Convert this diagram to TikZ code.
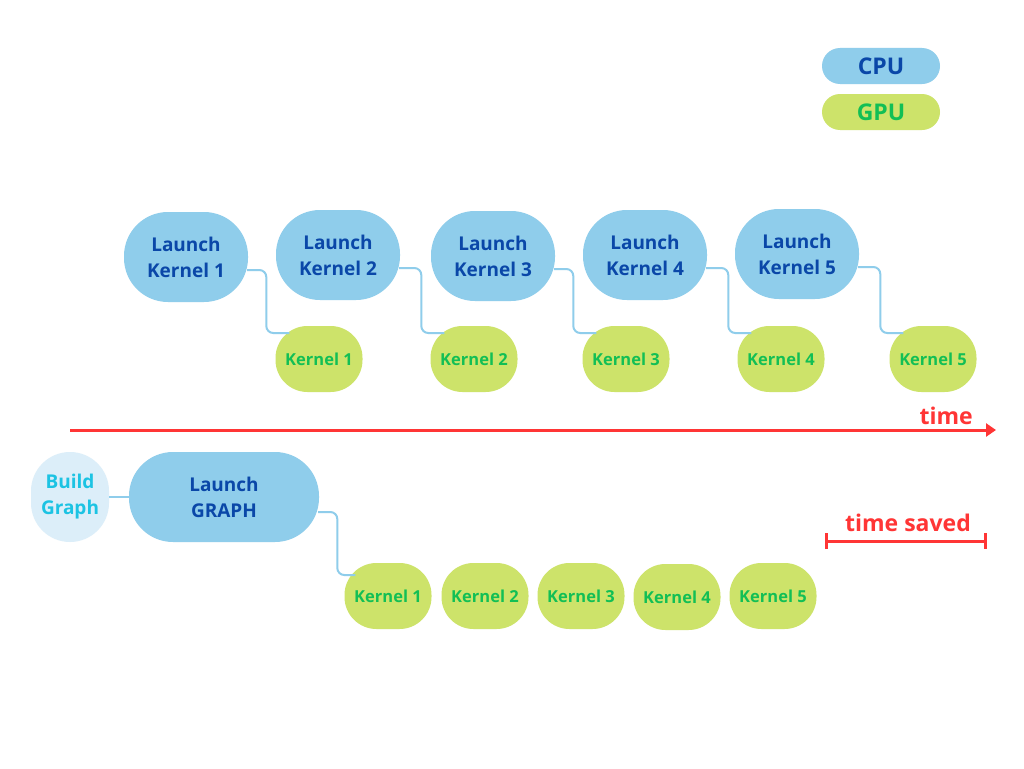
\documentclass[tikz,border=0pt]{standalone}
\usepackage{fontspec}
\setmainfont{Open Sans}
\usetikzlibrary{calc,arrows.meta}
\definecolor{cpufill}{HTML}{8FCDEB}
\definecolor{cputext}{HTML}{0A47A8}
\definecolor{gpufill}{HTML}{CDE36A}
\definecolor{gputext}{HTML}{12BF55}
\definecolor{buildfill}{HTML}{DCEEF9}
\definecolor{buildtext}{HTML}{1CC3E3}
\definecolor{tred}{HTML}{FF3535}
\begin{document}
\begin{tikzpicture}[x=1pt,y=-1pt,
  cpunode/.style={fill=cpufill, text=cputext, rounded corners=44pt, minimum width=124pt, minimum height=90pt, align=center, inner sep=0pt, font=\bfseries\fontsize{19}{26}\selectfont},
  gpunode/.style={fill=gpufill, text=gputext, rounded corners=32pt, minimum width=87pt, minimum height=66pt, inner sep=0pt, font=\bfseries\fontsize{16.5}{18}\selectfont},
  buildnode/.style={fill=buildfill, text=buildtext, rounded corners=39pt, minimum width=78pt, minimum height=90pt, align=center, inner sep=0pt, font=\bfseries\fontsize{19}{26}\selectfont},
  legend/.style={rounded corners=18pt, minimum width=118pt, minimum height=36pt, inner sep=0pt, font=\bfseries\fontsize{23}{26}\selectfont},
  link/.style={draw=cpufill, line width=2pt, rounded corners=7pt},
  redline/.style={draw=tred, line width=3pt},
  redtext/.style={text=tred, inner sep=0pt, font=\bfseries\fontsize{23}{26}\selectfont}]
\useasboundingbox[fill=white] (0,0) rectangle (1024,768);

% legend
\node[legend, fill=cpufill, text=cputext] (cpu) at (881,66) {CPU};
\node[legend, fill=gpufill, text=gputext] (gpu) at (881,112) {GPU};

% top row
\node[cpunode] (lk1) at (186,257) {Launch\\Kernel 1};
\node[cpunode] (lk2) at (338,255) {Launch\\Kernel 2};
\node[cpunode] (lk3) at (493,256) {Launch\\Kernel 3};
\node[cpunode] (lk4) at (645,255) {Launch\\Kernel 4};
\node[cpunode] (lk5) at (797,254) {Launch\\Kernel 5};

\node[gpunode] (k1) at (319,359) {Kernel 1};
\node[gpunode] (k2) at (474,359) {Kernel 2};
\node[gpunode] (k3) at (626,359) {Kernel 3};
\node[gpunode] (k4) at (781,359) {Kernel 4};
\node[gpunode] (k5) at (933,359) {Kernel 5};

\foreach \i in {1,...,5}{
  \draw[link] ($(lk\i.east)+(-1,13)$) -| ($(k\i.west)+(-9,-26)$) -- ($(k\i.west)+(14,-26)$);
}

% time axis
\coordinate (ts) at (70,430);
\coordinate (te) at (996,430);
\draw[redline, -{Triangle[length=10pt,width=13pt]}] (ts) -- (te);
\node[redtext, anchor=base east] (tlabel) at (973,424) {time};

% bottom row
\node[buildnode] (bg) at (70,497) {Build\\Graph};
\node[cpunode, minimum width=190pt] (lg) at (224,497) {Launch\\GRAPH};
\draw[link] (bg.east) -- (lg.west);

\node[gpunode] (b1) at (388,596) {Kernel 1};
\node[gpunode] (b2) at (485,596) {Kernel 2};
\node[gpunode] (b3) at (581,596) {Kernel 3};
\node[gpunode] (b4) at (677,597) {Kernel 4};
\node[gpunode] (b5) at (773,596) {Kernel 5};

\draw[link] ($(lg.east)+(-1,15)$) -| ($(b1.west)+(-7,-21)$) -- ($(b1.west)+(11,-21)$);

% time saved
\coordinate (sa) at (825,541);
\coordinate (sb) at (987,541);
\draw[redline, {Bar[width=16pt]}-{Bar[width=16pt]}] (sa) -- (sb);
\node[redtext, anchor=base] (slabel) at (908,531) {time saved};
\end{tikzpicture}
\end{document}
